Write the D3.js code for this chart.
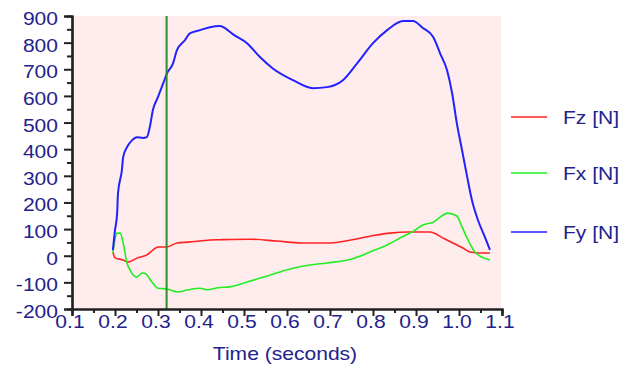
<!DOCTYPE html>
<html>
<head>
<meta charset="utf-8">
<script src="https://cdn.jsdelivr.net/npm/d3@7"></script>
<style>
  body { margin: 0; background: #ffffff; }
  text { font-family: "Liberation Sans", Arial, sans-serif; fill: #22228a; }
</style>
</head>
<body>
<div id="chart"></div>
<script>
// data (time in seconds, force in N)
var fzTime = [0.195, 0.200, 0.219, 0.230, 0.251, 0.274, 0.288, 0.300, 0.321, 0.344, 0.370, 0.421, 0.444, 0.514, 0.577, 0.635, 0.700, 0.758, 0.805, 0.840, 0.881, 0.933, 0.963, 0.986, 1.009, 1.026, 1.049, 1.072];
var fzValues = [14, -8, -16, -24, -9, 3, 21, 33, 33, 48, 51, 59, 60, 62, 55, 48, 48, 62, 77, 85, 89, 89, 66, 48, 29, 14, 10, 10];

var fxTime = [0.195, 0.205, 0.212, 0.219, 0.228, 0.235, 0.251, 0.263, 0.270, 0.286, 0.300, 0.321, 0.347, 0.367, 0.398, 0.414, 0.440, 0.467, 0.507, 0.560, 0.607, 0.653, 0.693, 0.751, 0.793, 0.833, 0.867, 0.891, 0.916, 0.940, 0.974, 0.995, 1.007, 1.021, 1.037, 1.053, 1.072];
var fxValues = [10, 85, 85, 48, -28, -54, -80, -65, -67, -99, -122, -125, -136, -129, -122, -128, -120, -117, -99, -73, -50, -35, -27, -12, 14, 40, 70, 89, 115, 126, 160, 149, 108, 59, 14, -5, -16];

var fyTime = [0.195, 0.200, 0.205, 0.207, 0.216, 0.219, 0.228, 0.240, 0.251, 0.265, 0.274, 0.281, 0.288, 0.300, 0.312, 0.321, 0.335, 0.344, 0.363, 0.374, 0.398, 0.421, 0.444, 0.458, 0.474, 0.507, 0.537, 0.567, 0.614, 0.660, 0.693, 0.730, 0.763, 0.800, 0.833, 0.870, 0.893, 0.916, 0.940, 0.956, 0.972, 0.984, 0.995, 1.007, 1.019, 1.030, 1.044, 1.060, 1.072];
var fyValues = [21, 96, 160, 235, 321, 370, 408, 434, 445, 442, 445, 483, 546, 596, 647, 685, 722, 772, 810, 835, 847, 858, 862, 852, 832, 798, 746, 703, 659, 629, 633, 659, 722, 798, 847, 881, 881, 855, 821, 760, 697, 610, 497, 397, 296, 209, 134, 71, 22];

var seriesNames = ["Fz [N]", "Fx [N]", "Fy [N]"];
var xTickLabels = ["0.1", "0.2", "0.3", "0.4", "0.5", "0.6", "0.7", "0.8", "0.9", "1.0", "1.1"];
var yTickLabels = [900, 800, 700, 600, 500, 400, 300, 200, 100, 0, -100, -200];
var markerTime = 0.32;

var svgWidth = 634;
var svgHeight = 366;
var plotLeft = 72, plotRight = 502, plotTop = 16, plotBottom = 309;
var stretch = 1.17; // text in the picture is drawn a bit wider than normal

var svg = d3.select("#chart")
  .append("svg")
  .attr("width", svgWidth)
  .attr("height", svgHeight);

var xScale = d3.scaleLinear().domain([0.1, 1.1]).range([plotLeft, plotRight]);
var yScale = d3.scaleLinear().domain([-200, 900]).range([plotBottom, plotTop]);

// pink plot background
svg.append("rect")
  .attr("x", plotLeft)
  .attr("y", plotTop)
  .attr("width", plotRight - plotLeft - 1)
  .attr("height", plotBottom - plotTop)
  .attr("fill", "#ffecec");

// series lines
var colors = ["#ff2222", "#22ee22", "#2222ff"];
var series = [
  { t: fzTime, v: fzValues },
  { t: fxTime, v: fxValues },
  { t: fyTime, v: fyValues }
];

var line = d3.line()
  .curve(d3.curveMonotoneX)
  .x(function(d) { return xScale(d[0]); })
  .y(function(d) { return yScale(d[1]); });

series.forEach(function(s, i) {
  var pts = s.t.map(function(t, j) { return [t, s.v[j]]; });
  svg.append("path")
    .datum(pts)
    .attr("fill", "none")
    .attr("stroke", colors[i])
    .attr("stroke-width", i == 2 ? 2 : 1.6)
    .attr("stroke-linejoin", "round")
    .attr("d", line);
});

// vertical time marker
svg.append("line")
  .attr("x1", xScale(markerTime))
  .attr("x2", xScale(markerTime))
  .attr("y1", plotTop)
  .attr("y2", plotBottom)
  .attr("stroke", "#2e8b2e")
  .attr("stroke-width", 2);

// y axis: major ticks every 100, minor every 50
var yAxis = d3.axisLeft(yScale).tickValues(yTickLabels).tickSize(8).tickFormat("");
var yMinor = d3.axisLeft(yScale).tickValues(d3.range(-150, 900, 100)).tickSize(5).tickFormat("");
svg.append("g").attr("transform", "translate(" + plotLeft + ",0)").call(yAxis);
svg.append("g").attr("transform", "translate(" + plotLeft + ",0)").call(yMinor);

// x axis: major ticks every 0.1, minor every 0.05
var xAxis = d3.axisBottom(xScale).tickValues(xTickLabels.map(Number)).tickSize(7).tickFormat("");
var xMinor = d3.axisBottom(xScale).tickValues(d3.range(0.15, 1.1, 0.1)).tickSize(4).tickFormat("");
svg.append("g").attr("transform", "translate(0," + plotBottom + ")").call(xAxis);
svg.append("g").attr("transform", "translate(0," + plotBottom + ")").call(xMinor);

svg.selectAll(".domain, .tick line")
  .attr("stroke", "#222")
  .attr("stroke-width", 2);
svg.selectAll(".domain").attr("stroke-width", 2.2);

// tick labels (stretched horizontally)
svg.selectAll("text.ylab")
  .data(yTickLabels)
  .enter()
  .append("text")
  .attr("class", "ylab")
  .attr("text-anchor", "end")
  .attr("font-size", 18)
  .attr("transform", function(d) {
    return "translate(58," + (yScale(d) + 9) + ")scale(" + stretch + ",1)";
  })
  .text(function(d) { return d; });

svg.selectAll("text.xlab")
  .data(xTickLabels)
  .enter()
  .append("text")
  .attr("class", "xlab")
  .attr("text-anchor", "middle")
  .attr("font-size", 18)
  .attr("transform", function(d) {
    return "translate(" + (xScale(+d) - 2) + ",328)scale(" + stretch + ",1)";
  })
  .text(function(d) { return d; });

// axis title
svg.append("text")
  .attr("text-anchor", "middle")
  .attr("font-size", 18)
  .attr("transform", "translate(" + ((plotLeft + plotRight) / 2 - 2) + ",360)scale(" + stretch + ",1)")
  .text("Time (seconds)");

// legend
var legendY = [117, 173, 232];
var legend = svg.selectAll("g.legend")
  .data(seriesNames)
  .enter()
  .append("g")
  .attr("class", "legend")
  .attr("transform", function(d, i) { return "translate(0," + legendY[i] + ")"; });

legend.append("line")
  .attr("x1", 511)
  .attr("x2", 547)
  .attr("stroke", function(d, i) { return colors[i]; })
  .attr("stroke-width", 1.6);

legend.append("text")
  .attr("font-size", 18)
  .attr("transform", "translate(563,7)scale(" + stretch + ",1)")
  .text(function(d) { return d; });
</script>
</body>
</html>
